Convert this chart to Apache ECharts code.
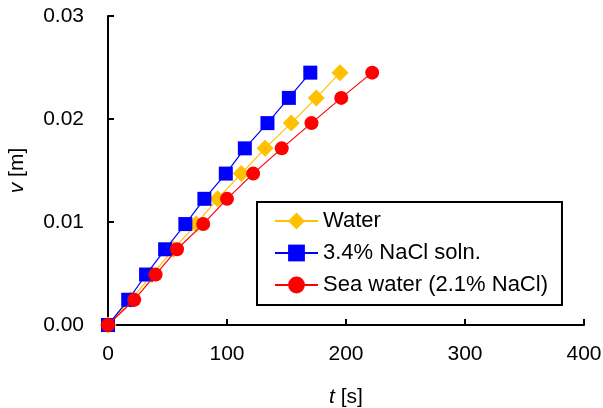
<!DOCTYPE html>
<html>
<head>
<meta charset="utf-8">
<script src="https://cdn.jsdelivr.net/npm/echarts@6/dist/echarts.min.js"></script>
<style>html,body{margin:0;padding:0;background:#fff}#c{width:603px;height:408px}</style>
</head>
<body>
<div id="c"></div>
<script>
var vValues = [0, 0.00245, 0.0049, 0.00735, 0.0098, 0.01225, 0.0147, 0.01715, 0.0196, 0.02205, 0.0245];
var tWater = [0, 19, 37, 55, 74, 92, 112, 132, 154, 175, 195];
var tNaCl = [0, 17, 32, 48, 65, 81, 99, 115, 134, 152, 170];
var tSea = [0, 22, 40, 58, 80, 100, 122, 146, 171, 196, 222];
var seriesNames = ['Water', '3.4% NaCl soln.', 'Sea water (2.1% NaCl)'];
var xTicks = [0, 100, 200, 300, 400];
var yTicks = [0, 0.01, 0.02, 0.03];

function pairs(t){ return t.map(function(x,i){ return [x, vValues[i]]; }); }
var font = 'Liberation Sans, Arial, sans-serif';
var chart = echarts.init(document.getElementById('c'), null, {renderer:'canvas'});
chart.setOption({
  animation:false,
  backgroundColor:'#fff',
  grid:{left:108, right:19, top:16, bottom:83, containLabel:false, outerBoundsMode:'none'},
  xAxis:{
    type:'value', min:xTicks[0], max:xTicks[xTicks.length-1], interval:100,
    name:'{i|t} [s]', nameLocation:'middle', nameGap:62,
    nameTextStyle:{fontFamily:font, fontSize:21, color:'#000', rich:{i:{fontStyle:'italic', fontFamily:font, fontSize:21, color:'#000'}}},
    axisLine:{show:true, lineStyle:{color:'#000', width:2}},
    axisTick:{show:true, inside:true, length:6, lineStyle:{color:'#000', width:2}},
    axisLabel:{fontFamily:font, fontSize:21, color:'#000', margin:19},
    splitLine:{show:false}
  },
  yAxis:{
    type:'value', min:yTicks[0], max:yTicks[yTicks.length-1], interval:0.01,
    name:'{i|v} [m]', nameLocation:'middle', nameGap:80,
    nameTextStyle:{fontFamily:font, fontSize:21, color:'#000', rich:{i:{fontStyle:'italic', fontFamily:font, fontSize:21, color:'#000'}}},
    axisLine:{show:true, lineStyle:{color:'#000', width:2}},
    axisTick:{show:true, inside:true, length:6, lineStyle:{color:'#000', width:2}},
    axisLabel:{fontFamily:font, fontSize:21, color:'#000', margin:24, formatter:function(v){return v.toFixed(2);}},
    splitLine:{show:false}
  },
  legend:{
    show:true, orient:'vertical', left:257, top:202,
    data:seriesNames,
    itemWidth:43, itemHeight:21, itemGap:10,
    borderColor:'#000', borderWidth:2, borderRadius:0,
    padding:[8, 14, 9, 17],
    textStyle:{fontFamily:font, fontSize:22, color:'#000'}
  },
  series:[
    {name:seriesNames[0], type:'line', data:pairs(tWater), z:2, symbol:'diamond', symbolSize:[17,17],
      itemStyle:{color:'#FFC000'}, lineStyle:{color:'#FFC000', width:1.2}},
    {name:seriesNames[1], type:'line', data:pairs(tNaCl), z:3, symbol:'rect', symbolSize:14,
      itemStyle:{color:'#0000FF'}, lineStyle:{color:'#0000FF', width:1.2}},
    {name:seriesNames[2], type:'line', data:pairs(tSea), z:4, symbol:'circle', symbolSize:14,
      itemStyle:{color:'#FF0000'}, lineStyle:{color:'#FF0000', width:1.2}}
  ]
});
</script>
</body>
</html>
